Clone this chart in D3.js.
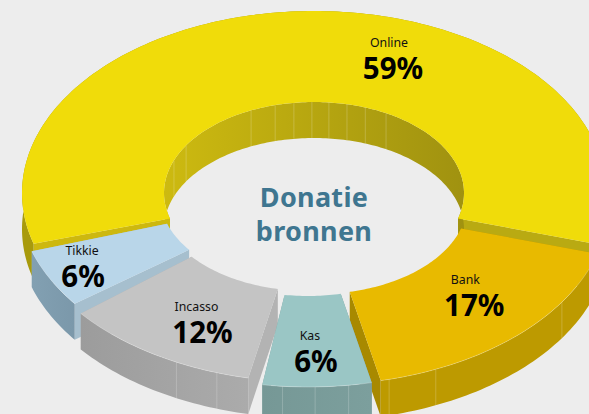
<!DOCTYPE html>
<html>
<head>
<meta charset="UTF-8">
<title>Donatie bronnen</title>
<script src="https://cdnjs.cloudflare.com/ajax/libs/d3/7.8.5/d3.min.js"></script>
<style>
html, body { margin:0; padding:0; background:#ededed; overflow:hidden; }
text { font-family:"Noto Sans", "Open Sans", sans-serif; text-anchor:middle; }
.name { font-size:12.3px; fill:#111; }
.pct { font-size:29.5px; font-weight:700; fill:#000; }
.title { font-size:27px; font-weight:700; fill:#3f7690; letter-spacing:0.3px; }
</style>
</head>
<body>
<div id="chart"></div>
<script>
var categories = ["Online", "Bank", "Kas", "Incasso", "Tikkie"];
var percents = [59, 17, 6, 12, 6];

// look of each slice, same order as categories
var topColors = ["#f0dc0a", "#e8ba00", "#9ac6c5", "#c4c4c4", "#b9d6e9"];
var wallColors = [["#a89a0c", "#a89a0c"], ["#bd9a00", "#bd9a00"], ["#769896", "#7c9f9d"], ["#9c9c9c", "#ababab"], ["#82a0b2", "#7b98aa"]];
var cutColors = [["#cdb80f", "#b9aa12"], ["#b89500", "#a88900"], ["#7c9f9d", "#7c9f9d"], ["#b3b3b3", "#b3b3b3"], ["#a6bfce", "#a6bfce"]];
var shifts = [[0, 0], [3, 10], [-6, 12], [-5, 7], [-4, 3]];
var insets = [[0, 0], [0, 0], [0, 0], [3, 0.8], [1.5, 1.5]]; // degrees trimmed off each slice end, the gaps between slices
var labelNudge = [[79, 6, -4], [6, -3, -9], [1, 15, -6], [6, 10, -6], [-30, 13, -1]]; // dx, dy, name dx
// seams on the walls, degrees clockwise from the top
var outerSeams = [[], [123, 156, 165.7], [172, 178.6, 185], [198.4, 207], []];
var innerSeams = [-69, -58.5, -24.8, -15, -7.7, -0.8, 5.7, 12.7, 20, 28.7];

var width = 589, height = 414;
var cx = 314, cy = 193, depth = 36;
var outerR = [292, 182], innerR = [150, 91];
var rad = Math.PI / 180;

var svg = d3.select("#chart").append("svg").attr("width", width).attr("height", height).style("display", "block");
var defs = svg.append("defs");

var pie = d3.pie().sort(null).startAngle(-212.4 / 2 * rad).endAngle((360 - 212.4 / 2) * rad);
var arcs = pie(percents);
var line = d3.line();

function pt(a, r, drop) {
  return [cx + r[0] * Math.sin(a), cy - r[1] * Math.cos(a) + (drop || 0)];
}
function arcPts(a0, a1, r, drop) {
  var n = Math.ceil(Math.abs(a1 - a0) / 0.02);
  return d3.range(n + 1).map(function(i) { return pt(a0 + (a1 - a0) * i / n, r, drop); });
}
function wallPath(a0, a1, r) {
  return line(arcPts(a0, a1, r, 0).concat(arcPts(a1, a0, r, depth))) + "Z";
}
function cutPath(a) {
  return line([pt(a, innerR), pt(a, outerR), pt(a, outerR, depth), pt(a, innerR, depth)]) + "Z";
}
function gradient(id, c0, c1) {
  var g = defs.append("linearGradient").attr("id", id);
  g.append("stop").attr("offset", "0%").attr("stop-color", c0);
  g.append("stop").attr("offset", "100%").attr("stop-color", c1);
  return "url(#" + id + ")";
}
function seam(g, deg, r) {
  var p = pt(deg * rad, r);
  g.append("line").attr("x1", p[0]).attr("y1", p[1]).attr("x2", p[0]).attr("y2", p[1] + depth)
    .attr("stroke", "#fff").attr("stroke-opacity", 0.2).attr("stroke-width", 1);
}

// painter's order: online and bank at the back, kas last
[0, 1, 4, 3, 2].forEach(function(i) {
  var a0 = arcs[i].startAngle + insets[i][0] * rad;
  var a1 = arcs[i].endAngle - insets[i][1] * rad;
  var g = svg.append("g").attr("transform", "translate(" + shifts[i][0] + "," + shifts[i][1] + ")");

  g.append("path").attr("d", cutPath(a0)).attr("fill", cutColors[i][0]);
  g.append("path").attr("d", cutPath(a1)).attr("fill", cutColors[i][1]);
  g.append("path").attr("d", wallPath(a0, a1, outerR))
    .attr("fill", gradient("wall" + i, wallColors[i][0], wallColors[i][1]));
  if (i == 0) {
    g.append("path").attr("d", wallPath(a0, a1, innerR))
      .attr("fill", gradient("inner", "#cdba10", "#a09210"));
    innerSeams.forEach(function(s) { seam(g, s, innerR); });
  }
  outerSeams[i].forEach(function(s) { seam(g, s, outerR); });

  var ring = arcPts(a0, a1, outerR).concat(arcPts(a1, a0, innerR));
  g.append("path").attr("d", line(ring) + "Z").attr("fill", topColors[i]);
  g.append("path").attr("d", line(arcPts(a0, a1, outerR))).attr("fill", "none")
    .attr("stroke", "#fff").attr("stroke-opacity", i == 0 ? 0 : 0.35).attr("stroke-width", 0.7);

  var mid = (arcs[i].startAngle + arcs[i].endAngle) / 2;
  var c = pt(mid, [(outerR[0] + innerR[0]) / 2, (outerR[1] + innerR[1]) / 2]);
  var lx = c[0] + labelNudge[i][0], ly = c[1] + labelNudge[i][1];
  g.append("text").attr("class", "name").attr("x", lx + labelNudge[i][2]).attr("y", ly - 16).text(categories[i]);
  g.append("text").attr("class", "pct").attr("x", lx).attr("y", ly + 16).text(percents[i] + "%");
});

svg.append("text").attr("class", "title").attr("x", cx).attr("y", 207).text("Donatie");
svg.append("text").attr("class", "title").attr("x", cx).attr("y", 241).text("bronnen");
</script>
</body>
</html>
